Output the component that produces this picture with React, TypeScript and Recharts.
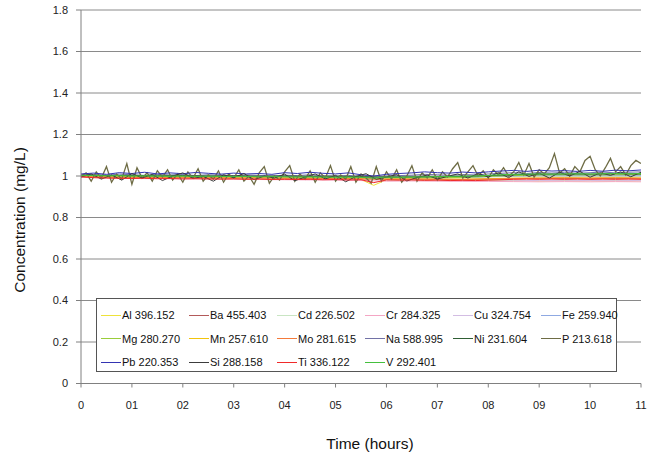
import React from "react";
import { CartesianGrid, Line, LineChart, XAxis, YAxis } from "recharts";

// Concentration readings (mg/L) for each emission line, sampled every `step` hours
const alValues = [0.998, 0.994, 0.993, 0.992, 0.993, 0.991, 0.992, 0.99, 0.991, 0.99, 0.989, 0.99, 0.988, 0.989, 0.987, 0.988, 0.986, 0.987, 0.985, 0.986, 0.984, 0.985, 0.983, 0.955, 0.982, 0.981, 0.982, 0.98, 0.981, 0.979, 0.98, 0.978, 0.979, 0.978, 0.977, 0.978, 0.976, 0.977, 0.978, 0.976, 0.977, 0.976, 0.977, 0.976, 0.977];
const baValues = [0.997, 0.994, 0.993, 0.992, 0.992, 0.991, 0.99, 0.99, 0.989, 0.989, 0.988, 0.986, 0.985, 0.985, 0.984, 0.983, 0.985, 0.987, 0.988, 0.988, 0.987, 0.988, 0.987];
const cdValues = [1.0, 0.998, 0.997, 0.996, 0.996, 0.995, 0.995, 0.994, 0.994, 0.993, 0.993, 0.992, 0.99, 0.991, 0.99, 0.991, 0.995, 0.998, 1.0, 1.0, 1.001, 1.0, 1.001];
const crValues = [0.995, 0.99, 0.988, 0.987, 0.986, 0.985, 0.984, 0.983, 0.982, 0.981, 0.98, 0.978, 0.975, 0.976, 0.975, 0.974, 0.974, 0.973, 0.972, 0.973, 0.972, 0.973, 0.972];
const cuValues = [0.996, 0.993, 0.992, 0.991, 0.99, 0.99, 0.989, 0.988, 0.987, 0.987, 0.986, 0.984, 0.981, 0.982, 0.981, 0.98, 0.98, 0.979, 0.978, 0.979, 0.978, 0.979, 0.978];
const feValues = [1.002, 1.0, 0.999, 0.998, 0.998, 0.997, 0.997, 0.996, 0.996, 0.995, 0.995, 0.994, 0.992, 0.993, 0.992, 0.993, 0.997, 1.0, 1.003, 1.004, 1.003, 1.004, 1.004];
const mgValues = [1.001, 0.999, 0.998, 0.998, 0.997, 0.997, 0.996, 0.996, 0.995, 0.995, 0.994, 0.993, 0.991, 0.992, 0.992, 0.993, 0.998, 1.002, 1.005, 1.006, 1.005, 1.006, 1.007];
const mnValues = [0.998, 0.995, 0.994, 0.993, 0.993, 0.992, 0.991, 0.991, 0.99, 0.99, 0.989, 0.987, 0.986, 0.986, 0.985, 0.985, 0.987, 0.99, 0.991, 0.992, 0.991, 0.992, 0.991];
const moValues = [0.997, 0.994, 0.993, 0.992, 0.992, 0.991, 0.99, 0.99, 0.989, 0.988, 0.988, 0.986, 0.984, 0.985, 0.984, 0.983, 0.985, 0.988, 0.989, 0.99, 0.989, 0.99, 0.989];
const naValues = [1.005, 1.008, 1.004, 1.009, 1.006, 1.003, 1.008, 1.005, 1.007, 1.002, 1.006, 1.004, 1.001, 1.005, 1.003, 1.0, 1.004, 1.002, 1.006, 1.001, 0.998, 1.003, 0.997, 0.99, 0.999, 1.002, 1.004, 1.008, 1.006, 1.003, 1.007, 1.005, 1.01, 1.013, 1.016, 1.012, 1.017, 1.014, 1.018, 1.013, 1.016, 1.019, 1.015, 1.018, 1.02];
const niValues = [1.004, 1.002, 1.003, 1.001, 1.002, 1.0, 1.001, 0.999, 1.0, 0.998, 0.999, 0.997, 0.995, 0.996, 0.997, 0.998, 1.002, 1.006, 1.009, 1.01, 1.009, 1.011, 1.01];
const pValues = [
  1.0, 1.015, 0.975, 1.02, 0.99, 1.045, 0.97, 1.01, 0.985, 1.06,
  0.96, 1.04, 0.99, 1.015, 0.975, 1.025, 0.995, 1.03, 0.98, 1.01,
  0.97, 1.02, 0.99, 1.035, 0.975, 1.005, 0.985, 1.025, 0.97, 1.01,
  0.99, 1.03, 0.975, 1.0, 0.96, 1.015, 1.045, 0.965, 1.0, 0.98,
  1.02, 1.05, 0.975, 1.01, 0.985, 1.025, 0.97, 1.015, 0.99, 1.05,
  0.975, 1.005, 0.985, 1.045, 0.97, 1.01, 0.99, 0.965, 1.045, 0.975,
  1.02, 0.985, 1.03, 0.97, 1.0, 1.05, 0.975, 1.015, 0.99, 1.03,
  0.98, 1.02, 0.995, 1.035, 1.065, 0.99, 1.02, 1.05, 1.0, 1.025,
  0.99, 1.03, 1.005, 1.04, 1.0, 1.02, 1.065, 1.005, 1.06, 0.995,
  1.03, 1.01, 1.04, 1.108, 1.015, 1.035, 1.0, 1.045, 1.02, 1.075,
  1.095, 1.03, 1.0, 1.04, 1.085, 1.02, 1.045, 1.005, 1.05, 1.075,
  1.06,
];
const pbValues = [1.01, 1.014, 1.008, 1.016, 1.012, 1.018, 1.01, 1.015, 1.011, 1.017, 1.013, 1.009, 1.014, 1.01, 1.012, 1.008, 1.016, 1.012, 1.018, 1.013, 1.01, 1.015, 1.006, 1.0, 1.008, 1.012, 1.015, 1.02, 1.016, 1.014, 1.019, 1.015, 1.02, 1.024, 1.027, 1.022, 1.028, 1.024, 1.026, 1.022, 1.027, 1.023, 1.028, 1.025, 1.029];
const siValues = [
  0.995, 1.01, 0.985, 1.005, 0.98, 1.012, 0.99, 1.008, 0.978, 1.0,
  1.015, 0.988, 0.998, 0.975, 1.006, 0.992, 1.012, 0.982, 1.0, 0.99,
  1.009, 0.977, 0.995, 1.01, 0.986, 1.003, 0.972, 0.998, 1.011, 0.984,
  0.995, 1.007, 0.976, 0.993, 1.004, 0.985, 0.998, 1.01, 0.99, 1.012,
  0.995, 1.016, 0.992, 1.02, 0.998, 1.014, 0.99, 1.018, 1.0, 1.022,
  0.994, 1.015, 1.003, 1.02, 0.996, 1.018,
];
const tiValues = [0.996, 0.992, 0.99, 0.989, 0.988, 0.989, 0.987, 0.988, 0.986, 0.987, 0.986, 0.985, 0.986, 0.984, 0.985, 0.983, 0.984, 0.983, 0.984, 0.982, 0.983, 0.981, 0.982, 0.968, 0.981, 0.98, 0.981, 0.979, 0.98, 0.978, 0.979, 0.978, 0.98, 0.982, 0.984, 0.985, 0.984, 0.985, 0.984, 0.985, 0.984, 0.985, 0.984, 0.985, 0.984];
const vValues = [1.002, 1.003, 1.001, 1.002, 1.0, 1.001, 1.0, 0.999, 1.0, 0.998, 0.999, 0.998, 0.997, 0.998, 0.996, 0.997, 0.996, 0.995, 0.996, 0.995, 0.994, 0.995, 0.994, 0.99, 0.995, 0.994, 0.995, 0.996, 0.997, 0.998, 0.999, 1.0, 1.003, 1.006, 1.008, 1.009, 1.01, 1.009, 1.01, 1.011, 1.01, 1.011, 1.012, 1.011, 1.012];

const yTicks = [0, 0.2, 0.4, 0.6, 0.8, 1, 1.2, 1.4, 1.6, 1.8];
const xTicks = [0, 1, 2, 3, 4, 5, 6, 7, 8, 9, 10, 11];
const xTickLabels = ["0", "01", "02", "03", "04", "05", "06", "07", "08", "09", "10", "11"];

interface Series {
  name: string;
  color: string;
  step: number;
  values: number[];
}

const series: Series[] = [
  { name: "Al 396.152", color: "#EEE23A", step: 0.25, values: alValues },
  { name: "Ba 455.403", color: "#B35A5A", step: 0.5, values: baValues },
  { name: "Cd 226.502", color: "#C9E5C3", step: 0.5, values: cdValues },
  { name: "Cr 284.325", color: "#F4A6C4", step: 0.5, values: crValues },
  { name: "Cu 324.754", color: "#D3BDE3", step: 0.5, values: cuValues },
  { name: "Fe 259.940", color: "#8FA9E2", step: 0.5, values: feValues },
  { name: "Mg 280.270", color: "#9ACD3A", step: 0.5, values: mgValues },
  { name: "Mn 257.610", color: "#F2C40C", step: 0.5, values: mnValues },
  { name: "Mo 281.615", color: "#F47A3A", step: 0.5, values: moValues },
  { name: "Na 588.995", color: "#7272A6", step: 0.25, values: naValues },
  { name: "Ni 231.604", color: "#2F5E34", step: 0.5, values: niValues },
  { name: "P 213.618", color: "#6E6C45", step: 0.1, values: pValues },
  { name: "Pb 220.353", color: "#3434B2", step: 0.25, values: pbValues },
  { name: "Si 288.158", color: "#3C3C3C", step: 0.2, values: siValues },
  { name: "Ti 336.122", color: "#F02A2A", step: 0.25, values: tiValues },
  { name: "V 292.401", color: "#45C03E", step: 0.25, values: vValues },
];

const font = "'Liberation Sans', Arial, sans-serif";
const tickStyle = { fontSize: 11, fill: "#222", fontFamily: font };

const LegendBox: React.FC = () => (
  <div
    style={{
      position: "absolute",
      left: 96,
      top: 298,
      width: 519,
      height: 72,
      background: "#fff",
      border: "1px solid #555",
      fontFamily: font,
      fontSize: 11,
      color: "#111",
    }}
  >
    {series.map((s, i) => (
      <div
        key={s.name}
        style={{
          position: "absolute",
          left: 4 + (i % 6) * 88,
          top: 8 + Math.floor(i / 6) * 23.5,
          display: "flex",
          alignItems: "center",
          whiteSpace: "nowrap",
          lineHeight: "16px",
        }}
      >
        <span style={{ display: "inline-block", width: 20, height: 1, background: s.color, marginRight: 1 }} />
        <span>{s.name}</span>
      </div>
    ))}
  </div>
);

const App: React.FC = () => {
  return (
    <div style={{ position: "relative", width: 648, height: 457 }}>
      <style>{"body{margin:0}"}</style>
      <LineChart width={648} height={457} margin={{ top: 10, right: 7, left: 21, bottom: 43.5 }}>
        <CartesianGrid vertical={false} stroke="#8a8a8a" strokeWidth={1} />
        <XAxis
          type="number"
          dataKey="t"
          domain={[0, 11]}
          ticks={xTicks}
          interval={0}
          tickFormatter={(v: number) => xTickLabels[Math.round(v)]}
          stroke="#808080"
          tickSize={4}
          tickMargin={14}
          height={30}
          tick={tickStyle}
          allowDataOverflow
        />
        <YAxis
          type="number"
          domain={[0, 1.8]}
          ticks={yTicks}
          interval={0}
          stroke="#808080"
          tickSize={5}
          tickMargin={8}
          width={60}
          tick={tickStyle}
          allowDataOverflow
        />
        {series.map((s) => (
          <Line
            key={s.name}
            name={s.name}
            data={s.values.map((v, i) => ({ t: i * s.step, v }))}
            dataKey="v"
            type="linear"
            stroke={s.color}
            strokeWidth={s.step === 0.1 ? 1.3 : 1}
            dot={false}
            isAnimationActive={false}
          />
        ))}
      </LineChart>
      <LegendBox />
      <div
        style={{
          position: "absolute",
          left: 20 - 100,
          top: 220 - 10,
          width: 200,
          textAlign: "center",
          transform: "rotate(-90deg)",
          fontFamily: font,
          fontSize: 15.5,
          lineHeight: "20px",
          color: "#111",
        }}
      >
        Concentration (mg/L)
      </div>
      <div
        style={{
          position: "absolute",
          left: 370 - 100,
          top: 444 - 10,
          width: 200,
          textAlign: "center",
          fontFamily: font,
          fontSize: 15.5,
          lineHeight: "20px",
          color: "#111",
        }}
      >
        Time (hours)
      </div>
    </div>
  );
};

export default App;
